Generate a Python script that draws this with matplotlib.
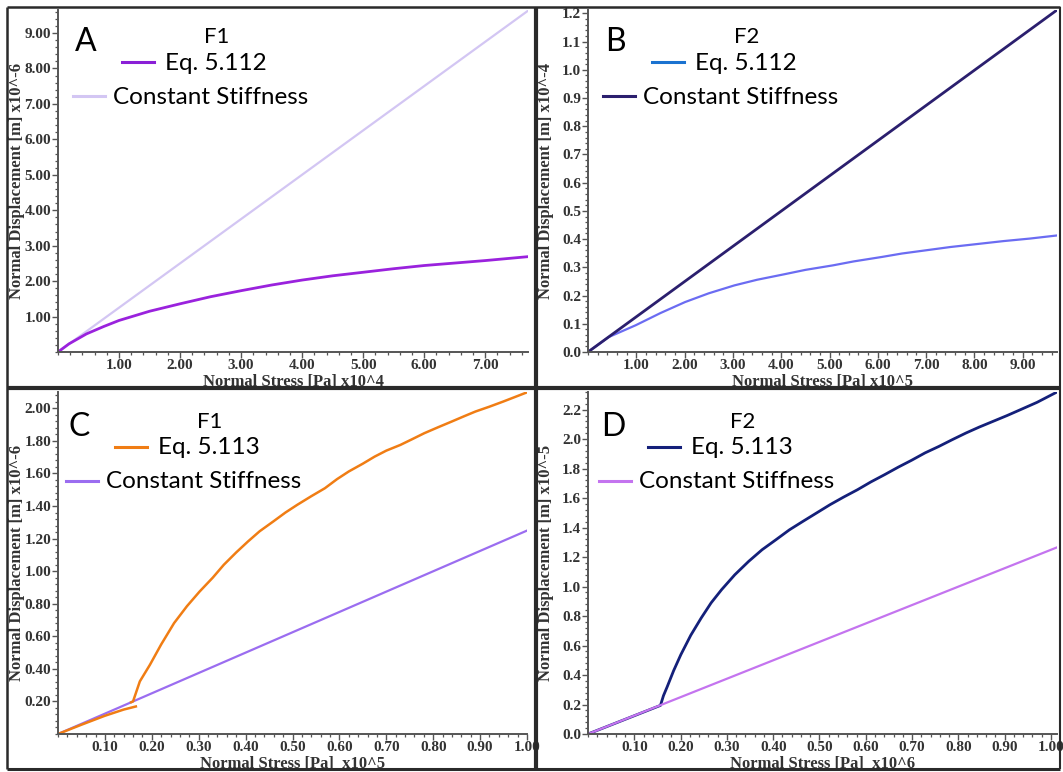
import matplotlib
matplotlib.use("Agg")
import matplotlib.pyplot as plt
from matplotlib.ticker import AutoMinorLocator, FormatStrFormatter
from matplotlib.lines import Line2D

# ---------------- data ----------------
# Panel A (F1, Eq. 5.112), x in 1e4 Pa, y in 1e-6 m
a_eq_x = [0.0, 0.18, 0.465, 0.75, 1.0, 1.5, 2.0, 2.5, 3.0, 3.5, 4.0, 4.5, 5.0,
          5.5, 6.0, 6.5, 7.0, 7.7]
a_eq_y = [0.0, 0.23, 0.51, 0.72, 0.89, 1.15, 1.36, 1.56, 1.73, 1.89, 2.03, 2.15,
          2.25, 2.35, 2.44, 2.51, 2.58, 2.69]
a_cs_x = [0.0, 7.7]
a_cs_y = [0.0, 9.63]

# Panel B (F2, Eq. 5.112), x in 1e5 Pa, y in 1e-4 m
b_eq_x = [0.0, 0.43, 0.99, 1.5, 2.01, 2.5, 3.03, 3.5, 4.05, 4.5, 5.07, 5.5, 6.09,
          6.5, 7.11, 7.5, 8.13, 8.6, 9.15, 9.71]
b_eq_y = [0.0, 0.053, 0.095, 0.138, 0.177, 0.208, 0.236, 0.256, 0.275, 0.291,
          0.307, 0.321, 0.337, 0.349, 0.363, 0.372, 0.384, 0.393, 0.402, 0.413]
b_cs_x = [0.0, 9.71]
b_cs_y = [0.0, 1.212]

# Panel C (F1, Eq. 5.113), x in 1e5 Pa, y in 1e-6 m
c_eq1_x = [0.0, 0.05, 0.10, 0.14, 0.166]
c_eq1_y = [0.0, 0.057, 0.112, 0.150, 0.169]
c_eq2_x = [0.156, 0.160, 0.1745, 0.196, 0.22, 0.2475, 0.275, 0.302, 0.33, 0.3535,
           0.38, 0.405, 0.43, 0.459, 0.485, 0.510, 0.54, 0.569, 0.595, 0.620,
           0.65, 0.675, 0.70, 0.730, 0.755, 0.781, 0.81, 0.839, 0.865, 0.890,
           0.92, 0.949, 0.975, 1.0]
c_eq2_y = [0.195, 0.20, 0.323, 0.425, 0.55, 0.681, 0.785, 0.875, 0.96, 1.039,
           1.115, 1.182, 1.245, 1.305, 1.36, 1.407, 1.46, 1.509, 1.565, 1.612,
           1.66, 1.703, 1.74, 1.775, 1.81, 1.847, 1.883, 1.918, 1.95, 1.980,
           2.01, 2.041, 2.07, 2.098]
c_cs_x = [0.0, 1.0]
c_cs_y = [0.0, 1.249]

# Panel D (F2, Eq. 5.113), x in 1e6 Pa, y in 1e-5 m
d_eq_x = [0.0, 0.1565, 0.163, 0.171, 0.185, 0.2005, 0.222, 0.2445, 0.266, 0.2885,
          0.317, 0.347, 0.376, 0.406, 0.435, 0.4645, 0.494, 0.523, 0.552, 0.582,
          0.611, 0.6405, 0.67, 0.699, 0.728, 0.758, 0.787, 0.8165, 0.845, 0.875,
          0.905, 0.934, 0.97, 1.013]
d_eq_y = [0.0, 0.194, 0.26, 0.32, 0.43, 0.538, 0.67, 0.787, 0.89, 0.979,
          1.08, 1.171, 1.25, 1.318, 1.385, 1.443, 1.50, 1.556, 1.607, 1.657,
          1.71, 1.759, 1.81, 1.857, 1.907, 1.951, 1.997, 2.042, 2.082, 2.121,
          2.16, 2.20, 2.25, 2.32]
d_cs_x = [0.0, 1.013]
d_cs_y = [0.0, 1.266]

W, H = 1063, 772
fig = plt.figure(figsize=(W / 100, H / 100), dpi=100)
fig.patch.set_facecolor("white")

SERIF = "Liberation Serif"
SANS = "Lato"
AXC = "#555555"
TXC = "#333333"


def px(x, y):
    return x / W, 1 - y / H


def make_axes(l, t, r, b):
    x0, y1 = px(l, t)
    x1, y0 = px(r, b)
    ax = fig.add_axes([x0, y0, x1 - x0, y1 - y0])
    for s in ("top", "right"):
        ax.spines[s].set_visible(False)
    for s in ("left", "bottom"):
        ax.spines[s].set_color(AXC)
        ax.spines[s].set_linewidth(1.4)
    ax.tick_params(which="major", direction="out", length=4, width=1.0, color=AXC,
                   labelsize=11, labelcolor=TXC, pad=1)
    ax.tick_params(which="minor", direction="out", length=2.5, width=0.9, color=AXC)
    ax.xaxis.set_minor_locator(AutoMinorLocator(5))
    ax.yaxis.set_minor_locator(AutoMinorLocator(5))
    ax.set_facecolor("white")
    return ax, (l, t, r, b)


def style_labels(axg, xlabel, ylabel, ylab_x):
    ax, (l, t, r, b) = axg
    for lab in ax.get_xticklabels() + ax.get_yticklabels():
        lab.set_fontfamily(SERIF)
        lab.set_fontweight("bold")
    ax.set_xlabel(xlabel, fontfamily=SERIF, fontweight="bold", fontsize=12,
                  color=TXC, va="center")
    ax.set_ylabel(ylabel, fontfamily=SERIF, fontweight="bold", fontsize=12,
                  color=TXC, va="center")
    h = b - t
    w = r - l
    ax.xaxis.set_label_coords(0.5, -29.5 / h)
    ax.yaxis.set_label_coords(-(l - ylab_x) / w, 0.5)


def legend_block(ox, oy, letter, fname, eqname, eqcol, cscol):
    fig.text(*px(ox + 68, oy + 44), letter, fontfamily=SANS, fontsize=23,
             color="black", ha="left", va="baseline")
    fig.text(*px(ox + 210, oy + 36), fname, fontfamily=SANS, fontsize=16,
             color="black", ha="center", va="baseline")
    fig.add_artist(Line2D([px(ox + 115, 0)[0], px(ox + 147, 0)[0]],
                          [px(0, oy + 55)[1]] * 2, color=eqcol, lw=2.2))
    fig.text(*px(ox + 158, oy + 56), eqname, fontfamily=SANS, fontsize=17.5,
             color="black", ha="left", va="center")
    fig.add_artist(Line2D([px(ox + 66, 0)[0], px(ox + 98, 0)[0]],
                          [px(0, oy + 89)[1]] * 2, color=cscol, lw=2.2))
    fig.text(*px(ox + 106, oy + 90), "Constant Stiffness", fontfamily=SANS,
             fontsize=17.5, color="black", ha="left", va="center")


# ---------------- Panel A ----------------
gA = make_axes(58, 10, 528, 352)
axA = gA[0]
axA.plot(a_cs_x, a_cs_y, color="#d3c6f3", lw=1.6)
axA.plot(a_eq_x, a_eq_y, color="#9a22dd", lw=2.0)
axA.set_xlim(0, 7.7)
axA.set_ylim(0, 9.65)
axA.set_xticks([1, 2, 3, 4, 5, 6, 7])
axA.set_yticks([1, 2, 3, 4, 5, 6, 7, 8, 9])
axA.xaxis.set_major_formatter(FormatStrFormatter("%.2f"))
axA.yaxis.set_major_formatter(FormatStrFormatter("%.2f"))
style_labels(gA, "Normal Stress [Pa] x10^4", "Normal Displacement [m] x10^-6", 17)
legend_block(7, 7, "A", "F1", "Eq. 5.112", "#8a1fd6", "#d3c6f3")

# ---------------- Panel B ----------------
gB = make_axes(588, 10, 1057, 352)
axB = gB[0]
axB.plot(b_eq_x, b_eq_y, color="#6b6cf2", lw=1.6)
axB.plot(b_cs_x, b_cs_y, color="#2b1f6e", lw=2.0)
axB.set_xlim(0, 9.71)
axB.set_ylim(0, 1.212)
axB.set_xticks([1, 2, 3, 4, 5, 6, 7, 8, 9])
axB.set_yticks([0.0, 0.1, 0.2, 0.3, 0.4, 0.5, 0.6, 0.7, 0.8, 0.9, 1.0, 1.1, 1.2])
axB.xaxis.set_major_formatter(FormatStrFormatter("%.2f"))
axB.yaxis.set_major_formatter(FormatStrFormatter("%.1f"))
style_labels(gB, "Normal Stress [Pa] x10^5", "Normal Displacement [m] x10^-4", 546)
legend_block(537, 7, "B", "F2", "Eq. 5.112", "#1a72d0", "#2b1f6e")

# ---------------- Panel C ----------------
gC = make_axes(58, 392, 527, 734)
axC = gC[0]
axC.plot(c_cs_x, c_cs_y, color="#9b6df0", lw=1.6)
axC.plot(c_eq1_x, c_eq1_y, color="#f07d14", lw=1.8)
axC.plot(c_eq2_x, c_eq2_y, color="#f07d14", lw=1.8)
axC.set_xlim(0, 1.0)
axC.set_ylim(0, 2.1)
axC.set_xticks([0.1, 0.2, 0.3, 0.4, 0.5, 0.6, 0.7, 0.8, 0.9, 1.0])
axC.set_yticks([0.2, 0.4, 0.6, 0.8, 1.0, 1.2, 1.4, 1.6, 1.8, 2.0])
axC.xaxis.set_major_formatter(FormatStrFormatter("%.2f"))
axC.yaxis.set_major_formatter(FormatStrFormatter("%.2f"))
style_labels(gC, "Normal Stress [Pa]  x10^5", "Normal Displacement [m] x10^-6", 17)
legend_block(0, 392, "C", "F1", "Eq. 5.113", "#f07d14", "#9b6df0")

# ---------------- Panel D ----------------
gD = make_axes(588, 392, 1057, 734)
axD = gD[0]
axD.plot(d_eq_x, d_eq_y, color="#14207a", lw=2.0)
axD.plot(d_cs_x, d_cs_y, color="#c474ef", lw=1.6)
axD.set_xlim(0, 1.013)
axD.set_ylim(0, 2.32)
axD.set_xticks([0.1, 0.2, 0.3, 0.4, 0.5, 0.6, 0.7, 0.8, 0.9, 1.0])
axD.set_yticks([0.0, 0.2, 0.4, 0.6, 0.8, 1.0, 1.2, 1.4, 1.6, 1.8, 2.0, 2.2])
axD.xaxis.set_major_formatter(FormatStrFormatter("%.2f"))
axD.yaxis.set_major_formatter(FormatStrFormatter("%.1f"))
style_labels(gD, "Normal Stress [Pa]  x10^6", "Normal Displacement [m] x10^-5", 546)
legend_block(533, 392, "D", "F2", "Eq. 5.113", "#14207a", "#c474ef")

# ---------------- panel borders ----------------
BC = "#2a2a2a"


def hline(y, x0, x1, lw):
    fig.add_artist(Line2D([px(x0, 0)[0], px(x1, 0)[0]], [px(0, y)[1]] * 2,
                          color=BC, lw=lw, solid_capstyle="butt"))


def vline(x, y0, y1, lw):
    fig.add_artist(Line2D([px(x, 0)[0]] * 2, [px(0, y0)[1], px(0, y1)[1]],
                          color=BC, lw=lw, solid_capstyle="butt"))


hline(7, 7, 1060, 1.8)
hline(769, 7, 1060, 2.2)
hline(388, 7, 1060, 3.0)
vline(7, 7, 769, 1.8)
vline(1060, 7, 769, 1.5)
vline(536, 7, 769, 3.0)

fig.savefig("out.png", dpi=100, facecolor="white")
